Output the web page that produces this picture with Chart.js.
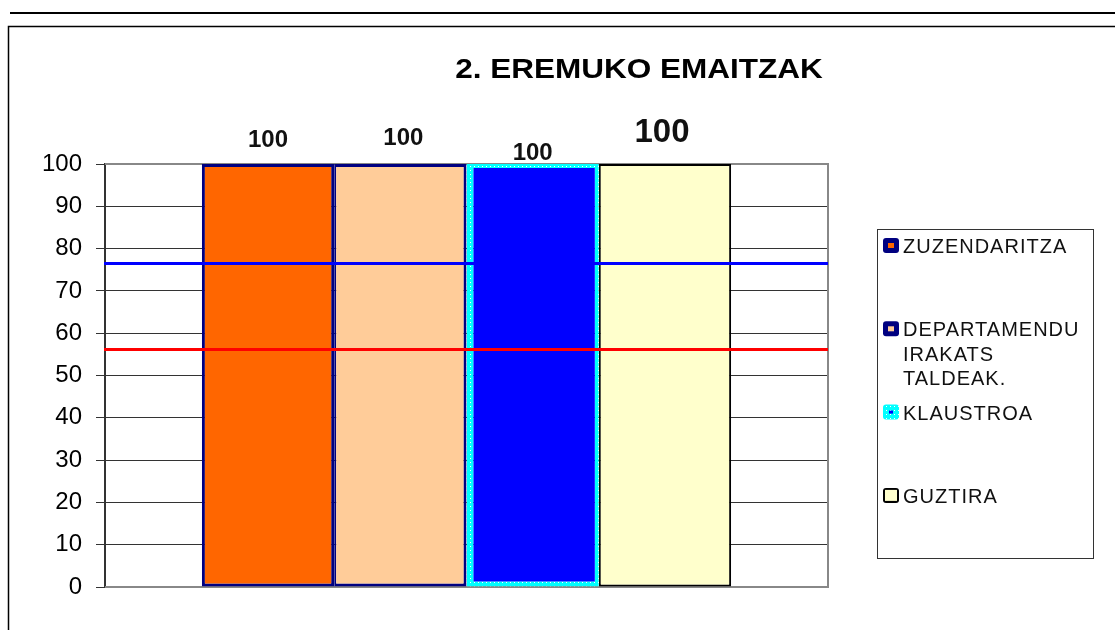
<!DOCTYPE html>
<html><head><meta charset="utf-8">
<script src="https://cdn.jsdelivr.net/npm/chart.js@4"></script>
<style>html,body{margin:0;padding:0;background:#fff;overflow:hidden}</style>
</head><body>
<canvas id="c" width="1115" height="630"></canvas>
<script>
// ---- data ----
const categories = [''];
const seriesLabels = ['ZUZENDARITZA', 'DEPARTAMENDU IRAKATS TALDEAK.', 'KLAUSTROA', 'GUZTIRA'];
const seriesValues = [100, 100, 100, 100];
const refLineValues = [76.7, 56.2];
const yTickMin = 0, yTickMax = 100, yTickStep = 10;
const titleText = '2. EREMUKO EMAITZAK';

// ---- styles ----
function dotPattern() {
  const p = document.createElement('canvas');
  p.width = 4; p.height = 4;
  const g = p.getContext('2d');
  g.fillStyle = '#00FFFF'; g.fillRect(0, 0, 4, 4);
  g.fillStyle = '#FFFFFF'; g.fillRect(2, 2, 1, 1);
  return document.getElementById('c').getContext('2d').createPattern(p, 'repeat');
}
const cyanDots = dotPattern();
const fillColors = ['#FF6600', '#FFCC99', '#0000FF', '#FFFFCC'];
const borderColors = ['#000080', '#000080', cyanDots, '#000000'];
const borderWidths = [3, {left: 2, top: 3, right: 3, bottom: 3}, {left: 7, top: 4, right: 4, bottom: 5}, 2];
const refLineColors = ['#0000FF', '#FF0000'];

const datasets = seriesLabels.map((lab, i) => ({
  type: 'bar', label: lab, data: [seriesValues[i]],
  backgroundColor: fillColors[i], borderColor: borderColors[i],
  borderWidth: borderWidths[i], borderSkipped: false,
  categoryPercentage: 0.732, barPercentage: 1
}));

const decor = {
  id: 'decor',
  beforeDraw(chart) {
    const c = chart.ctx;
    c.save();
    c.fillStyle = '#fff'; c.fillRect(0, 0, chart.width, chart.height);
    c.strokeStyle = '#000';
    c.lineWidth = 2;
    c.beginPath(); c.moveTo(10, 13); c.lineTo(chart.width, 13); c.stroke();
    c.lineWidth = 1.5;
    c.beginPath(); c.moveTo(8.5, chart.height); c.lineTo(8.5, 26.5); c.lineTo(chart.width, 26.5); c.stroke();
    c.restore();
  },
  beforeDatasetsDraw(chart) {
    const a = chart.chartArea, c = chart.ctx;
    c.save();
    c.strokeStyle = '#888'; c.lineWidth = 2;
    c.beginPath();
    c.moveTo(a.left, a.top); c.lineTo(a.right, a.top); c.lineTo(a.right, a.bottom); c.lineTo(a.left, a.bottom);
    c.stroke();
    c.restore();
  },
  afterDatasetsDraw(chart, args, opts) {
    const c = chart.ctx, a = chart.chartArea, ys = chart.scales.y;
    c.save();
    // reference lines (through the y scale)
    refLineValues.forEach((v, i) => {
      const py = Math.round(ys.getPixelForValue(v)) + 0.5;
      c.strokeStyle = refLineColors[i]; c.lineWidth = 3;
      c.beginPath(); c.moveTo(a.left - 1, py); c.lineTo(a.right, py); c.stroke();
    });
    // data labels
    seriesLabels.forEach((lab, i) => {
      const el = chart.getDatasetMeta(i).data[0];
      const lo = opts.labels[i];
      c.font = 'bold ' + lo.size + 'px "Liberation Sans"';
      c.fillStyle = '#111';
      c.textAlign = 'center'; c.textBaseline = 'alphabetic';
      c.fillText(String(seriesValues[i]), el.x + lo.dx, el.y - lo.dy);
    });
    // title
    c.save();
    c.font = 'bold 28px "Liberation Sans"';
    c.fillStyle = '#000'; c.textAlign = 'center';
    c.translate(639, 78); c.scale(1.125, 1);
    c.fillText(titleText, 0, 0);
    c.restore();
    // legend
    const L = opts.legend;
    c.strokeStyle = '#333'; c.lineWidth = 1;
    c.strokeRect(L.x + 0.5, L.y + 0.5, L.w, L.h);
    c.font = '20px "Liberation Sans"';
    c.letterSpacing = '1px';
    c.textAlign = 'left'; c.fillStyle = '#111';
    seriesLabels.forEach((lab, i) => {
      const base = L.y + L.first + i * L.step;
      const mx = L.x + 6, my = base - 15, mw = 16, mh = 15;
      c.fillStyle = borderColors[i];
      c.beginPath(); c.roundRect(mx, my, mw, mh, 3); c.fill();
      const ins = L.insets[i];
      c.fillStyle = fillColors[i];
      c.fillRect(mx + ins, my + ins, mw - 2 * ins, mh - 2 * ins);
      const words = lab.split(' ');
      const lines = []; let cur = '';
      words.forEach(w => {
        const t = cur ? cur + ' ' + w : w;
        if (cur && c.measureText(t).width > L.maxText) { lines.push(cur); cur = w; } else cur = t;
      });
      lines.push(cur);
      c.fillStyle = '#111';
      lines.forEach((ln, k) => c.fillText(ln, L.x + 26, base + k * 24.5));
    });
    c.restore();
  }
};

new Chart(document.getElementById('c'), {
  type: 'bar',
  data: {labels: categories, datasets},
  plugins: [decor],
  options: {
    responsive: false, animation: false, devicePixelRatio: 1,
    layout: {padding: {left: 0, top: 164, right: 287, bottom: 43}},
    plugins: {
      legend: {display: false}, tooltip: {enabled: false}, title: {display: false},
      decor: {
        labels: [{dx: 0, dy: 17, size: 24}, {dx: 3, dy: 19, size: 24}, {dx: 0, dy: 4, size: 24}, {dx: -3, dy: 22, size: 33}],
        legend: {x: 877, y: 229, w: 216, h: 329, first: 24, step: 83.3, maxText: 185, insets: [5, 5, 6, 2]}
      }
    },
    scales: {
      x: {type: 'category', display: false, offset: true, grid: {display: false}},
      y: {
        min: yTickMin, max: yTickMax,
        ticks: {stepSize: yTickStep, color: '#000', padding: 14, font: {family: 'Liberation Sans', size: 24}},
        grid: {
          color: ctx => (ctx.tick && (ctx.tick.value === yTickMin || ctx.tick.value === yTickMax)) ? '#888' : '#333',
          tickColor: '#333', tickLength: 9, lineWidth: 1
        },
        border: {color: '#333', width: 2},
        afterFit: s => { s.width = 105; }
      }
    }
  }
});
</script>
</body></html>
